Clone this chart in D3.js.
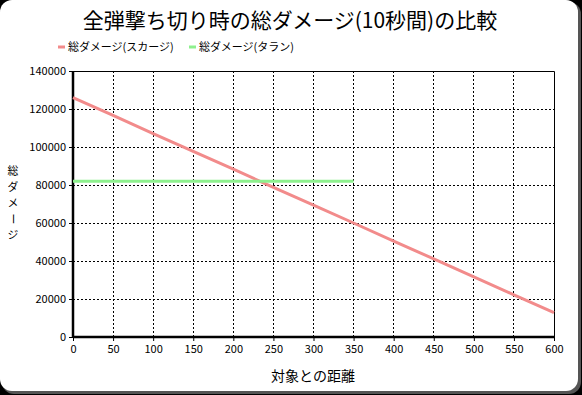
<!DOCTYPE html>
<html><head><meta charset="utf-8">
<script src="https://cdn.jsdelivr.net/npm/d3@7/dist/d3.min.js"></script>
<style>
html,body{margin:0;padding:0;background:#000;}
svg{display:block;}
text{font-family:"Noto Sans CJK JP","Noto Sans",sans-serif;fill:#000;}
</style></head>
<body>
<script>
const title = "全弾撃ち切り時の総ダメージ(10秒間)の比較";
const xLabel = "対象との距離";
const yLabel = "総ダメージ";
const seriesNames = ["総ダメージ(スカージ)", "総ダメージ(タラン)"];
const seriesColors = ["#f28b8b", "#8ef08e"];
const scourgeX = [0, 50, 100, 150, 200, 250, 300, 350, 400, 450, 500, 550, 600];
const scourgeY = [126000, 116600, 107100, 97700, 88300, 78800, 69400, 60000, 50500, 41100, 31700, 22200, 12800];
const taranX = [0, 350];
const taranY = [82000, 82000];
const xTicks = [0, 50, 100, 150, 200, 250, 300, 350, 400, 450, 500, 550, 600];
const yTicks = [0, 20000, 40000, 60000, 80000, 100000, 120000, 140000];

const W = 582, H = 395;
const svg = d3.select("body").append("svg").attr("width", W).attr("height", H);

// card background with shadow
svg.append("rect").attr("x", 2).attr("y", 2).attr("width", 579).attr("height", 392).attr("rx", 12).attr("fill", "#555");
svg.append("rect").attr("x", 0).attr("y", 0).attr("width", 578).attr("height", 391).attr("rx", 12).attr("fill", "#fff");

const m = {left: 73, right: 554, top: 71, bottom: 337};
const x = d3.scaleLinear().domain([0, 600]).range([m.left, m.right]);
const y = d3.scaleLinear().domain([0, 140000]).range([m.bottom, m.top]);

// title
svg.append("text").attr("x", 290).attr("y", 28).attr("text-anchor", "middle")
  .attr("font-size", 21).text(title);

// legend
const legX = [58, 189];
seriesNames.forEach((n, i) => {
  svg.append("line").attr("x1", legX[i]).attr("x2", legX[i] + 7).attr("y1", 47).attr("y2", 47)
    .attr("stroke", seriesColors[i]).attr("stroke-width", 3);
  svg.append("text").attr("x", legX[i] + 10).attr("y", 51).attr("font-size", 11).text(n);
});

// grid
const g = svg.append("g");
g.selectAll(".gx").data(xTicks.filter(d => d > 0 && d < 600)).enter().append("line")
  .attr("x1", d => x(d)).attr("x2", d => x(d)).attr("y1", m.top).attr("y2", m.bottom)
  .attr("stroke", "#000").attr("stroke-dasharray", "2,2").attr("shape-rendering", "crispEdges");
g.selectAll(".gy").data(yTicks.filter(d => d > 0 && d < 140000)).enter().append("line")
  .attr("x1", m.left).attr("x2", m.right).attr("y1", d => y(d)).attr("y2", d => y(d))
  .attr("stroke", "#000").attr("stroke-dasharray", "2,2").attr("shape-rendering", "crispEdges");
// top/right frame
svg.append("path").attr("d", `M${m.left},${m.top + 0.5}H${m.right + 0.5}V${m.bottom}`)
  .attr("fill", "none").attr("stroke", "#000").attr("stroke-width", 1);

// axes
const xAxis = svg.append("g").attr("transform", `translate(0,${m.bottom})`)
  .call(d3.axisBottom(x).tickValues(xTicks).tickSize(4).tickPadding(4).tickFormat(d3.format("d")));
const yAxis = svg.append("g").attr("transform", `translate(${m.left},0)`)
  .call(d3.axisLeft(y).tickValues(yTicks).tickSize(4).tickPadding(3).tickFormat(d3.format("d")));
[xAxis, yAxis].forEach(a => {
  a.select(".domain").attr("stroke-width", 2.5).attr("d", a === xAxis ? `M${m.left},0H${m.right + 1}` : `M0,${m.top}V${m.bottom + 1}`);
  a.selectAll("text").attr("font-size", 11).attr("font-family", "'Liberation Sans','Noto Sans',sans-serif");
});

// lines
const line = d3.line().x(d => x(d[0])).y(d => y(d[1]));
svg.append("path").datum(scourgeX.map((v, i) => [v, scourgeY[i]])).attr("d", line)
  .attr("fill", "none").attr("stroke", seriesColors[0]).attr("stroke-width", 3);
svg.append("path").datum(taranX.map((v, i) => [v, taranY[i]])).attr("d", line)
  .attr("fill", "none").attr("stroke", seriesColors[1]).attr("stroke-width", 3);

// axis titles
svg.append("text").attr("x", 313).attr("y", 381).attr("text-anchor", "middle").attr("font-size", 14).text(xLabel);
// vertical stacked y label (long vowel mark glyph turned vertical)
const fs = 10.8;
const yl = svg.append("text").attr("font-size", fs).attr("text-anchor", "middle");
Array.from(yLabel).forEach((c, i) => {
  const cy = 171 + i * 16;
  const ts = yl.append("tspan").text(c);
  if (c === "ー") {
    ts.attr("x", 13 + 0.12 * fs).attr("y", cy - fs / 2).attr("rotate", 90);
  } else {
    ts.attr("x", 13).attr("y", cy + 0.35 * fs);
  }
});
</script>
</body></html>
